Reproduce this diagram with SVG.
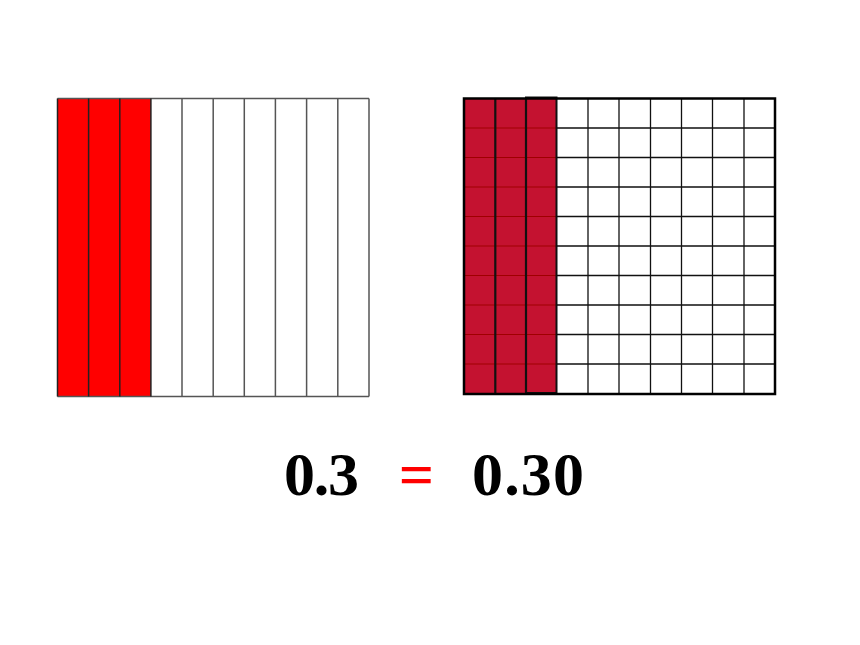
<svg xmlns="http://www.w3.org/2000/svg" width="860" height="645" viewBox="0 0 860 645">
<style>
.g1{stroke:#555;stroke-width:1.5;fill:none}
.g2{stroke:#111;stroke-width:1.3;fill:none}
.num{font-family:"Liberation Serif","Times New Roman",serif;font-weight:bold;font-size:62px}
</style>
<rect width="860" height="645" fill="#fff"/>
<g id="tenths">
<rect x="57.5" y="98.5" width="93.4" height="298" fill="#ff0000"/>
<path class="g1" d="M57.5 98.5H369M57.5 396.5H369M369 98.5V396.5M182 98.5V396.5M213.2 98.5V396.5M244.3 98.5V396.5M275.4 98.5V396.5M306.6 98.5V396.5M337.8 98.5V396.5"/>
<path d="M57.5 98.5V396.5M88.6 98.5V396.5M119.8 98.5V396.5M150.9 98.5V396.5" stroke="#222" stroke-width="1.5"/>
</g>
<g id="hundredths">
<rect x="464" y="98.5" width="93" height="295.5" fill="#c41230"/>
<path d="M464 128H557M464 157.5H557M464 187H557M464 216.5H557M464 246H557M464 275.5H557M464 305H557M464 334.5H557M464 364H557" stroke="#a00000" stroke-width="1.2"/>
<path class="g2" d="M557 128H775M557 157.5H775M557 187H775M557 216.5H775M557 246H775M557 275.5H775M557 305H775M557 334.5H775M557 364H775M588 98.5V394M619 98.5V394M650.5 98.5V394M681.5 98.5V394M712.5 98.5V394M744 98.5V394"/>
<path d="M495.3 98.5V394M526 98.5V394" stroke="#111" stroke-width="2.2"/>
<rect x="526" y="97.5" width="30.5" height="295.5" fill="none" stroke="#111" stroke-width="2"/>
<rect x="464" y="98.5" width="311" height="295.5" fill="none" stroke="#000" stroke-width="2.5"/>
</g>
<g id="equation">
<text class="num" x="284" y="495" textLength="75">0.3</text>
<text class="num" x="416.5" y="495" fill="#ff0000" text-anchor="middle" font-size="68">=</text>
<text class="num" x="472" y="495" textLength="112">0.30</text>
</g>
</svg>
